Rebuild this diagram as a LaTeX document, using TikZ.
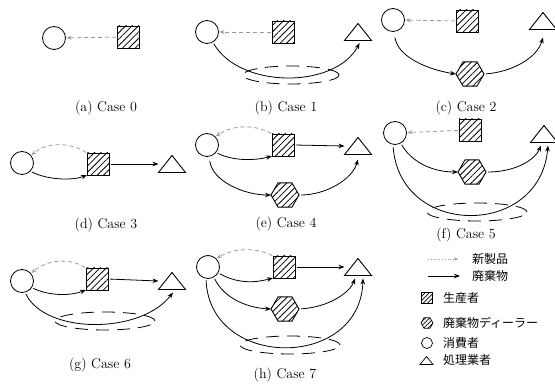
\documentclass[tikz,border=0pt]{standalone}
\usepackage{fontspec}
\newfontfamily\jpfont{Noto Sans CJK JP}
\usetikzlibrary{arrows.meta,patterns.meta,shapes.geometric}
\definecolor{prodgray}{gray}{0.6}

\begin{document}
\begin{tikzpicture}[x=1pt,y=-1pt,
  every node/.style={inner sep=0pt,outer sep=0pt},
  hatch/.style={pattern={Lines[angle=45,distance=4.5pt,line width=0.8pt]}},
  smallhatch/.style={pattern={Lines[angle=45,distance=3pt,line width=0.6pt]}},
  consumer/.style={circle,draw,line width=0.8pt,minimum size=23pt},
  producer/.style={rectangle,draw,line width=0.9pt,minimum size=22pt,hatch},
  dealer/.style={regular polygon,regular polygon sides=6,draw,line width=0.9pt,minimum size=28pt,hatch},
  processor/.style={rectangle,minimum width=27pt,minimum height=17pt,
    append after command={\pgfextra{\draw[line width=0.9pt,line join=miter]
      (\tikzlastnode.south west) -- (\tikzlastnode.north) -- (\tikzlastnode.south east) -- cycle;}}},
  ring/.style={ellipse,draw,line width=0.8pt,dash pattern=on 13pt off 8pt,minimum width=100pt,minimum height=18pt},
  newprod/.style={draw=prodgray,line width=0.8pt,dash pattern=on 4pt off 3pt,
    -{Stealth[length=5pt,width=4pt]},shorten <=1pt,shorten >=1pt},
  waste/.style={draw=black,line width=0.8pt,-{Stealth[length=6pt,width=4.5pt]},shorten <=2pt},
  caption/.style={font=\fontsize{14}{16}\selectfont},
  legtext/.style={anchor=west,font=\jpfont\fontsize{12}{14}\selectfont},
]
\useasboundingbox (0,0) rectangle (555,387);

% (a) Case 0
\node[consumer] (ca) at (54,38) {};
\node[producer] (pa) at (128,37) {};
\draw[newprod] (pa) -- (ca);
\node[caption] (capa) at (106,108) {(a) Case 0};

% (b) Case 1
\node[consumer] (cb) at (207,32) {};
\node[producer] (pb) at (283,32) {};
\node[processor] (tb) at (358,32) {};
\node[ring,minimum width=96pt] (eb) at (291,75) {};
\draw[newprod] (pb) -- (cb);
\draw[waste,shorten >=3pt] (cb.-60) .. controls (240,89) and (335,89) .. ([xshift=3pt]tb.south);
\node[caption] (capb) at (286,108) {(b) Case 1};

% (c) Case 2
\node[consumer] (cc) at (393,20) {};
\node[producer] (pc) at (467,21) {};
\node[processor] (tc) at (543,21) {};
\node[dealer] (hc) at (470,74) {};
\draw[newprod] (pc) -- (cc);
\draw[waste,shorten <=6pt] (cc.-85) .. controls (398,58) and (430,70) .. (hc.west);
\draw[waste] (hc.east) .. controls (512,72) and (537,58) .. ([yshift=-8pt]tc.south);
\node[caption] (capc) at (466,108) {(c) Case 2};

% (d) Case 3
\node[consumer] (cd) at (22,163) {};
\node[producer] (pd) at (98,164) {};
\node[processor] (td) at (172,164) {};
\draw[newprod] (pd.north west) .. controls (70,142) and (47,142) .. (cd.40);
\draw[waste] (cd.-45) .. controls (50,181) and (75,180) .. (pd.south west);
\draw[waste] (pd.east) -- (td.west);
\node[caption] (capd) at (106,225) {(d) Case 3};

% (e) Case 4
\node[consumer] (ce) at (207,145) {};
\node[producer] (pe) at (283,145) {};
\node[processor] (te) at (358,146) {};
\node[dealer] (he) at (285,195) {};
\draw[newprod] (pe.north west) .. controls (255,124) and (232,125) .. (ce.45);
\draw[waste] (ce.-40) .. controls (235,162) and (258,160) .. (pe.south west);
\draw[waste] (pe.east) -- (te.west);
\draw[waste,shorten <=5pt] (ce.-80) .. controls (213,182) and (245,195) .. (he.west);
\draw[waste] (he.east) .. controls (325,195) and (352,180) .. ([yshift=-5pt]te.south);
\node[caption] (cape) at (286,224) {(e) Case 4};

% (f) Case 5
\node[consumer] (cf) at (395,133) {};
\node[producer] (pf) at (470,130) {};
\node[processor] (tf) at (544,134) {};
\node[dealer] (hf) at (472,172) {};
\node[ring] (ef) at (477,212) {};
\draw[newprod] (pf) -- (cf);
\draw[waste] (cf.-60) .. controls (410,160) and (430,172) .. (hf.west);
\draw[waste] (hf.east) .. controls (515,172) and (535,160) .. ([xshift=-3pt,yshift=-3pt]tf.south);
\draw[waste,shorten <=3pt] (cf.-100) .. controls (400,238) and (540,238) .. ([xshift=4pt,yshift=-3pt]tf.south);
\node[caption] (capf) at (466,235) {(f) Case 5};

% (g) Case 6
\node[consumer] (cg) at (22,281) {};
\node[producer] (pg) at (97,279) {};
\node[processor] (tg) at (172,281) {};
\node[ring] (eg) at (105,321) {};
\draw[newprod] (pg.north west) .. controls (70,258) and (48,259) .. (cg.40);
\draw[waste] (cg.-35) .. controls (50,296) and (70,296) .. (pg.south west);
\draw[waste] (pg.east) -- (tg.west);
\draw[waste] (cg.-75) .. controls (45,334) and (140,335) .. ([xshift=1pt,yshift=-3pt]tg.south);
\node[caption] (capg) at (100,365) {(g) Case 6};

% (h) Case 7
\node[consumer] (ch) at (208,267) {};
\node[producer] (ph) at (284,267) {};
\node[processor] (th) at (358,267) {};
\node[dealer] (hh) at (285,309) {};
\node[ring] (eh) at (290,345) {};
\draw[newprod] (ph.north west) .. controls (258,248) and (235,247) .. (ch.45);
\draw[waste] (ch.-30) .. controls (240,285) and (258,282) .. (ph.south west);
\draw[waste] (ph.east) -- (th.west);
\draw[waste] (ch.-60) .. controls (225,300) and (250,308) .. (hh.west);
\draw[waste] (hh.east) .. controls (330,307) and (350,292) .. ([xshift=-3pt,yshift=-3pt]th.south);
\draw[waste] (ch.-100) .. controls (210,370) and (360,370) .. ([xshift=5pt,yshift=-3pt]th.south);
\node[caption] (caph) at (285,375) {(h) Case 7};

% legend
\coordinate (lga) at (428,259);
\coordinate (lgb) at (458,259);
\draw[draw=prodgray,line width=0.8pt,dotted,-{Stealth[length=4pt,width=3.5pt]}] (lga) -- (lgb);
\node[legtext] (lgta) at (472,259) {新製品};
\coordinate (lwa) at (428,276);
\coordinate (lwb) at (460,276);
\draw[draw=black,line width=0.8pt,-{Stealth[length=6pt,width=4.5pt]}] (lwa) -- (lwb);
\node[legtext] (lgtb) at (472,276) {廃棄物};
\node[rectangle,draw,line width=0.7pt,minimum size=11pt,smallhatch] (lgp) at (427,298) {};
\node[legtext] (lgtc) at (443,298) {生産者};
\node[regular polygon,regular polygon sides=6,draw,line width=0.7pt,minimum size=12pt,smallhatch] (lgh) at (427,323) {};
\node[legtext] (lgtd) at (443,323) {廃棄物ディーラー};
\node[circle,draw,line width=0.7pt,minimum size=11pt] (lgc) at (427,343) {};
\node[legtext] (lgte) at (443,343) {消費者};
\node[rectangle,minimum width=13pt,minimum height=8pt,
  append after command={\pgfextra{\draw[line width=0.7pt,line join=miter]
    (\tikzlastnode.south west) -- (\tikzlastnode.north) -- (\tikzlastnode.south east) -- cycle;}}] (lgt) at (426.5,360.5) {};
\node[legtext] (lgtf) at (443,360) {処理業者};
\end{tikzpicture}
\end{document}
